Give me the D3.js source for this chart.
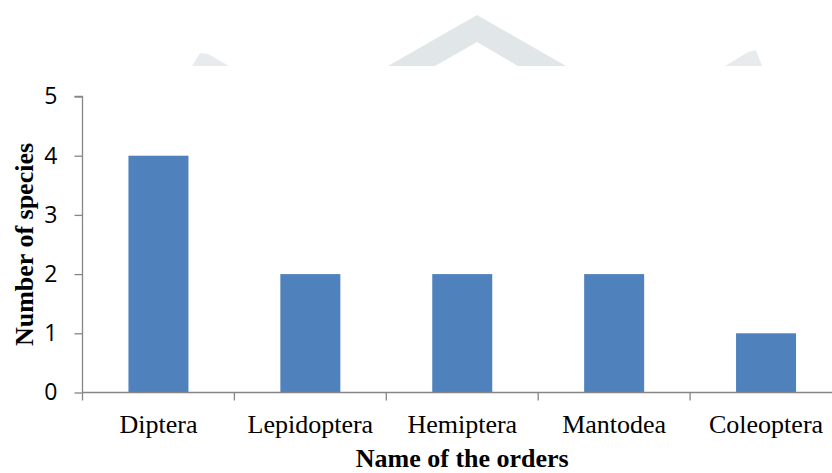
<!DOCTYPE html>
<html><head><meta charset="utf-8">
<script src="https://cdn.jsdelivr.net/npm/d3@7"></script>
<style>body{margin:0;background:#fff}</style>
</head><body>
<svg id="c" width="832" height="473"></svg>
<script>
const categories = ["Diptera","Lepidoptera","Hemiptera","Mantodea","Coleoptera"];
const values = [4,2,2,2,1];
const yTicks = [0,1,2,3,4,5];

const svg = d3.select("#c");
const H = 473;
const m = {left:82.5, top:96.5, bottom:80.5};
const plotRight = 842;

// faint watermark
const wm = svg.append("g").attr("fill","#e1e6e8");
wm.append("path").attr("d","M388,66 L477,15 L566,66 L518,66 L477,42 L435,66 Z");
wm.append("path").attr("d","M192,66 L200,53 L208,54 L229,66 Z").attr("fill","#e8ebed");
wm.append("path").attr("d","M725,66 L748,52 L756,50 L762,66 Z").attr("fill","#e8ebed");

const x = d3.scaleBand().domain(categories).range([m.left, plotRight]).padding(0);
const y = d3.scaleLinear().domain([0,5]).range([H-m.bottom, m.top]);

const barW = x.bandwidth()*0.395;
svg.append("g").selectAll("rect").data(values).join("rect")
  .attr("x",(d,i)=>x(categories[i])+x.bandwidth()/2-barW/2)
  .attr("y",d=>y(d))
  .attr("width",barW)
  .attr("height",d=>y(0)-y(d))
  .attr("fill","#4f81bd");

// y axis
const ya = svg.append("g").attr("transform",`translate(${m.left},0)`)
  .call(d3.axisLeft(y).tickValues(yTicks).tickFormat(d3.format("d")).tickSize(8).tickPadding(17));
ya.select(".domain").attr("stroke","#868686").attr("stroke-width",1.3).attr("d",`M-8,${y(5)}H0V${y(0)}`);
ya.selectAll(".tick line").attr("stroke","#868686").attr("stroke-width",1.3);
ya.selectAll("text").style("font-family","'Open Sans', 'Liberation Sans', sans-serif").style("font-size","23px").attr("fill","#000");

// x axis
const xa = svg.append("g").attr("transform",`translate(0,${y(0)})`)
  .call(d3.axisBottom(x).tickSize(0));
xa.select(".domain").attr("stroke","#868686").attr("stroke-width",1.3).attr("d",`M${m.left},0H${plotRight}`);
xa.selectAll("text").attr("y",40).attr("dy",0)
  .style("font-family","'Liberation Serif', 'Times New Roman', serif").style("font-size","26px").attr("fill","#000");
// boundary ticks
const bounds = categories.map(c=>x(c));
xa.selectAll(".btick").data(bounds).join("line").attr("class","btick")
  .attr("x1",d=>d).attr("x2",d=>d).attr("y1",0).attr("y2",8).attr("stroke","#868686").attr("stroke-width",1.3);

svg.append("text").attr("x",(m.left+plotRight)/2).attr("y",467)
  .attr("text-anchor","middle").style("font-family","'Liberation Serif', serif")
  .style("font-weight","bold").style("font-size","26px").text("Name of the orders");

svg.append("text").attr("transform",`translate(33,${(y(0)+y(5))/2}) rotate(-90)`)
  .attr("text-anchor","middle").style("font-family","'Liberation Serif', serif")
  .style("font-weight","bold").style("font-size","26px").text("Number of species");
</script>
</body></html>
